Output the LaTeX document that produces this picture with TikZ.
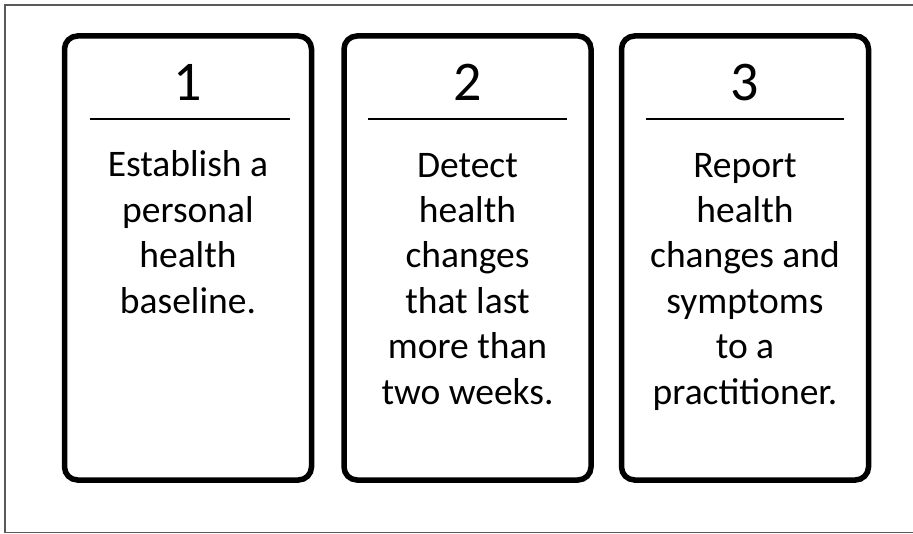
\documentclass[tikz,border=0pt]{standalone}
\usepackage{fontspec}
\setmainfont{Carlito}
\begin{document}
\begin{tikzpicture}[x=1pt, y=-1pt,
    stepbox/.style={draw, line width=5.5pt, rounded corners=13pt, minimum width=247pt, minimum height=444pt},
    stepnum/.style={font=\fontsize{56}{60}\selectfont, anchor=base, inner sep=0pt},
    steptext/.style={align=center, font=\fontsize{37.5}{45.5}\selectfont, anchor=base, inner sep=0pt},
    steprule/.style={line width=1.4pt}
]
\useasboundingbox (0,0) rectangle (913,534);
\draw[black!65, line width=1.5pt] (5,5) rectangle (940,532.5);

\node[stepbox] (box1) at (188,258) {};
\node[stepbox] (box2) at (467.5,258) {};
\node[stepbox] (box3) at (745,258) {};

\node[stepnum] (num1) at (188,101) {1};
\node[stepnum] (num2) at (467.5,101) {2};
\node[stepnum] (num3) at (745,101) {3};

\draw[steprule] (90,119) -- (290,119);
\draw[steprule] (368,119) -- (567,119);
\draw[steprule] (646,119) -- (844,119);

% anchor=base sits on the last line
\node[steptext] (text1) at (188,313.5) {Establish a\\personal\\health\\baseline.};
\node[steptext] (text2) at (467.5,404.5) {Detect\\health\\changes\\that last\\more than\\two weeks.};
\node[steptext] (text3) at (745,404.5) {Report\\health\\changes and\\symptoms\\to a\\practitioner.};
\end{tikzpicture}
\end{document}
